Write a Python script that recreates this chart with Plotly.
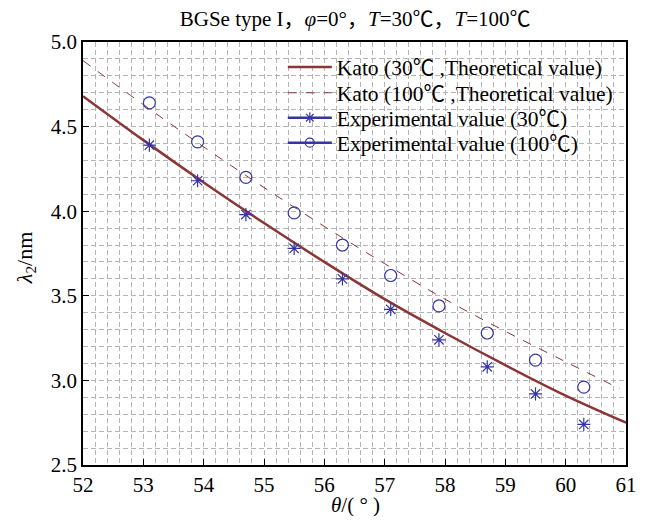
import plotly.graph_objects as go

# theoretical curves (Kato)
theta_th = [52, 53, 54, 55, 56, 57, 58, 59, 60, 61]
kato_30 = [4.68, 4.42, 4.17, 3.93, 3.70, 3.48, 3.28, 3.09, 2.91, 2.75]
theta_th100 = [52, 53, 54, 55, 56, 57, 58, 59, 60, 60.9]
kato_100 = [4.89, 4.63, 4.38, 4.14, 3.91, 3.69, 3.48, 3.29, 3.11, 2.95]

# experimental points
theta_exp = [53.1, 53.9, 54.7, 55.5, 56.3, 57.1, 57.9, 58.7, 59.5, 60.3]
exp_30 = [4.39, 4.18, 3.98, 3.78, 3.60, 3.42, 3.24, 3.08, 2.92, 2.74]
exp_100 = [4.64, 4.41, 4.20, 3.99, 3.80, 3.62, 3.44, 3.28, 3.12, 2.96]

RED = "#8B3535"
BLUE = "#3535A5"
FONT = "Liberation Serif, Noto Sans CJK SC, serif"

fig = go.Figure()
fig.add_trace(go.Scatter(x=theta_th, y=kato_30, mode="lines", line=dict(color=RED, width=2.5),
                         line_shape="spline", name="Kato (30℃ ,Theoretical value)", legend="legend"))
fig.add_trace(go.Scatter(x=theta_th100, y=kato_100, mode="lines", line=dict(color=RED, width=1, dash="dash"),
                         line_shape="spline", name="Kato (100℃ ,Theoretical value)", legend="legend2"))
fig.add_trace(go.Scatter(x=theta_exp, y=exp_30, mode="markers", showlegend=False,
                         marker=dict(symbol="asterisk-open", size=11, color=BLUE, line=dict(color=BLUE, width=1.2))))
fig.add_trace(go.Scatter(x=theta_exp, y=exp_100, mode="markers", showlegend=False,
                         marker=dict(symbol="circle-open", size=12, color=BLUE, line=dict(color=BLUE, width=1.2))))
# legend entries drawn with line + marker like the original
fig.add_trace(go.Scatter(x=[None], y=[None], mode="lines+markers", name="Experimental value (30℃)",
                         line=dict(color=BLUE, width=2.5), legend="legend3",
                         marker=dict(symbol="asterisk-open", size=9, color=BLUE, line=dict(color=BLUE, width=1.2))))
fig.add_trace(go.Scatter(x=[None], y=[None], mode="lines+markers", name="Experimental value (100℃)",
                         line=dict(color=BLUE, width=2.5), legend="legend4",
                         marker=dict(symbol="circle-open", size=9, color=BLUE, line=dict(color=BLUE, width=1.2))))

# one legend per row so the rows can sit as tight as in the original
leg = dict(x=0.368, xanchor="left", yanchor="middle", bgcolor="rgba(0,0,0,0)",
           font=dict(size=21.5), itemwidth=44)

# page body keeps an 8px margin, so the figure is 16px smaller than the window
grid = dict(showgrid=True, gridcolor="#b4b4b4", gridwidth=1, griddash="5px,3px")
fig.update_layout(
    width=630, height=508,
    margin=dict(l=75, r=12, t=34, b=51),
    paper_bgcolor="white", plot_bgcolor="white",
    font=dict(family=FONT, size=21, color="black"),
    title=dict(text="BGSe type I，<i>φ</i>=0°，<i>T</i>=30℃，<i>T</i>=100℃",
               x=0.551, xanchor="center", y=0.98, yanchor="middle", font=dict(size=21)),
    legend=dict(y=0.941, **leg),
    legend2=dict(y=0.880, **leg),
    legend3=dict(y=0.821, **leg),
    legend4=dict(y=0.762, **leg),
    xaxis=dict(range=[52, 61], dtick=1, ticks="inside", ticklen=6, tickcolor="black",
               tickfont=dict(family=FONT, size=21),
               showline=True, linecolor="black", linewidth=1.5, mirror=True, zeroline=False,
               automargin=False, minor=dict(dtick=0.2, **grid), **grid),
    yaxis=dict(range=[2.5, 5.0], dtick=0.5, tickformat=".1f", ticks="inside", ticklen=6, tickcolor="black",
               tickfont=dict(family=FONT, size=21),
               showline=True, linecolor="black", linewidth=1.5, mirror=True, zeroline=False,
               automargin=False, minor=dict(dtick=0.1, **grid), **grid),
    shapes=[dict(type="rect", xref="paper", yref="paper", x0=0.368, x1=0.985, y0=0.722, y1=0.997,
                 fillcolor="white", line=dict(width=0), layer="between")],
    annotations=[
        dict(text="<i>θ</i>/( ° )", xref="paper", yref="paper", x=0.501, y=-0.095,
             showarrow=False, xanchor="center", yanchor="middle", font=dict(size=21)),
        dict(text="<i>λ</i><sub>2</sub>/nm", xref="paper", yref="paper", x=-0.105, y=0.489,
             showarrow=False, xanchor="center", yanchor="middle", textangle=-90, font=dict(size=22)),
    ],
)

fig.write_html("out.html")
